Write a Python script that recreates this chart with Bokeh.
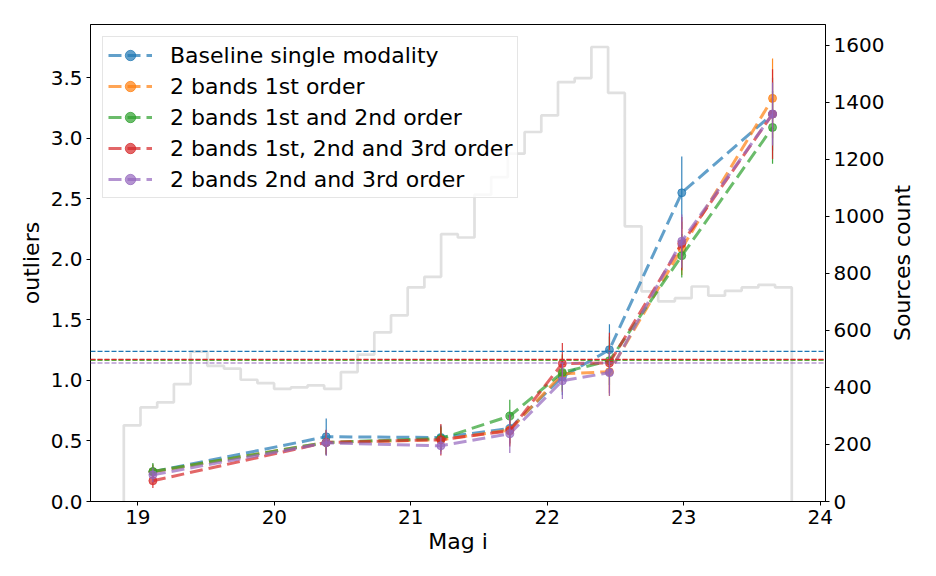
import numpy as np
from bokeh.plotting import figure
from bokeh.layouts import row
from bokeh.models import (Range1d, LinearAxis, Legend, LegendItem, FixedTicker,
                          NumeralTickFormatter, Span, Title)
from bokeh.embed import file_html
from bokeh.resources import INLINE

# ---- data -------------------------------------------------------------
mag = [19.11, 20.38, 21.22, 21.725, 22.11, 22.455, 22.985, 23.65]

baseline = [0.245, 0.535, 0.529, 0.603, 1.03, 1.254, 2.55, 3.20]
b1 = [0.245, 0.488, 0.51, 0.59, 1.055, 1.072, 2.09, 3.33]
b12 = [0.248, 0.488, 0.52, 0.706, 1.066, 1.163, 2.03, 3.09]
b123 = [0.171, 0.488, 0.51, 0.584, 1.14, 1.144, 2.13, 3.20]
b23 = [0.22, 0.485, 0.46, 0.56, 0.997, 1.064, 2.15, 3.20]

baseline_err = [0.06, 0.15, 0.10, 0.12, 0.15, 0.21, 0.30, 0.30]
b1_err = [0.06, 0.10, 0.10, 0.12, 0.15, 0.20, 0.22, 0.33]
b12_err = [0.07, 0.10, 0.10, 0.135, 0.15, 0.20, 0.18, 0.30]
b123_err = [0.06, 0.10, 0.13, 0.13, 0.17, 0.25, 0.22, 0.37]
b23_err = [0.06, 0.11, 0.07, 0.16, 0.15, 0.19, 0.22, 0.26]

overall = [1.24, 1.17, 1.168, 1.174, 1.144]

labels = ["Baseline single modality", "2 bands 1st order",
          "2 bands 1st and 2nd order", "2 bands 1st, 2nd and 3rd order",
          "2 bands 2nd and 3rd order"]
colors = ["#1f77b4", "#ff7f0e", "#2ca02c", "#d62728", "#9467bd"]

hist_lo, hist_hi, hist_nbins = 18.897, 23.791, 40
hist_counts = [267, 330, 348, 412, 526, 476, 466, 427, 415, 395,
               400, 407, 395, 454, 515, 593, 653, 751, 788, 938,
               926, 1076, 1138, 1220, 1296, 1354, 1471, 1485, 1594, 1433,
               965, 737, 702, 713, 754, 722, 739, 751, 760, 751]

x_ticks = [19, 20, 21, 22, 23, 24]
y_ticks = [0.0, 0.5, 1.0, 1.5, 2.0, 2.5, 3.0, 3.5]
count_ticks = [0, 200, 400, 600, 800, 1000, 1200, 1400, 1600]
right_label = "Sources count"

# ---- figure -----------------------------------------------------------
FONT = "DejaVu Sans"
p = figure(width=887, height=560, output_backend="svg", toolbar_location=None,
           x_range=Range1d(18.653, 24.038), y_range=Range1d(0, 3.94),
           min_border_left=90, min_border_right=62, min_border_top=24,
           min_border_bottom=59)
p.extra_y_ranges = {"count": Range1d(0, 1673)}
p.xgrid.visible = False
p.ygrid.visible = False
p.outline_line_color = "black"
p.outline_line_width = 1
p.outline_line_alpha = 1

# histogram (step outline)
edges = np.linspace(hist_lo, hist_hi, hist_nbins + 1)
hx = [edges[0]]
hy = [0]
for i, c in enumerate(hist_counts):
    hx += [edges[i], edges[i + 1]]
    hy += [c, c]
hx.append(edges[-1])
hy.append(0)
p.line(hx, hy, y_range_name="count", line_color="#d3d3d3", line_alpha=0.7,
       line_width=2.7)

# overall horizontal lines
for val, col in zip(overall, colors):
    p.add_layout(Span(location=val, dimension="width", line_color=col,
                      line_dash="5 2", line_width=1.2))

series = [baseline, b1, b12, b123, b23]
errs = [baseline_err, b1_err, b12_err, b123_err, b23_err]
items = []
for ys, es, col, lab in zip(series, errs, colors, labels):
    ys = np.array(ys)
    es = np.array(es)
    p.segment(x0=mag, y0=ys - es, x1=mag, y1=ys + es, line_color=col,
              line_width=1.2, line_alpha=0.9)
    ln = p.line(mag, ys, line_color=col, line_width=3, line_alpha=0.7,
                line_dash="13 6")
    sc = p.scatter(mag, ys, size=8, fill_color=col, line_color=col,
                   fill_alpha=0.7, line_alpha=0.7)
    items.append(LegendItem(label=lab, renderers=[ln, sc]))

legend = Legend(items=items, location="top_left", margin=12, padding=5,
                spacing=5, glyph_width=44, glyph_height=26, label_height=26,
                label_standoff=18, label_text_font=FONT,
                label_text_font_size="22px", label_text_color="black",
                border_line_color="#cccccc",
                border_line_width=1, background_fill_alpha=0.8)
p.add_layout(legend)

# axes
right_axis = LinearAxis(y_range_name="count")
p.add_layout(right_axis, "right")

for ax in [p.xaxis[0], p.yaxis[0], right_axis]:
    ax.major_label_text_font = FONT
    ax.major_label_text_font_size = "20px"
    ax.major_label_text_color = "black"
    ax.axis_label_text_font = FONT
    ax.axis_label_text_font_size = "22px"
    ax.axis_label_text_font_style = "normal"
    ax.axis_label_text_color = "black"
    ax.major_tick_out = 4
    ax.major_tick_in = 0
    ax.minor_tick_out = 0
    ax.minor_tick_in = 0
    ax.axis_line_color = "black"
    ax.major_tick_line_color = "black"
    ax.major_label_standoff = 4
    ax.axis_label_standoff = 4

p.xaxis[0].axis_label = "Mag i"
p.xaxis[0].axis_label_standoff = 2
p.xaxis[0].ticker = FixedTicker(ticks=x_ticks)
p.yaxis[0].axis_label = "outliers"
p.yaxis[0].ticker = FixedTicker(ticks=y_ticks)
p.yaxis[0].formatter = NumeralTickFormatter(format="0.0")
right_axis.ticker = FixedTicker(ticks=count_ticks)

# narrow companion figure carrying the right-axis title (bottom-to-top)
p2 = figure(width=45, height=560, output_backend="svg", toolbar_location=None,
            min_border_left=0, min_border_right=0, min_border_top=24,
            min_border_bottom=59)
p2.xaxis.visible = False
p2.yaxis.visible = False
p2.xgrid.visible = False
p2.ygrid.visible = False
p2.outline_line_color = None
p2.add_layout(Title(text=right_label, align="center", text_font=FONT,
                    text_font_size="22px", text_font_style="normal",
                    text_color="black", standoff=0, offset=0), "left")

layout = row(p, p2, spacing=0)

open("out.html", "w").write(file_html(layout, INLINE))
